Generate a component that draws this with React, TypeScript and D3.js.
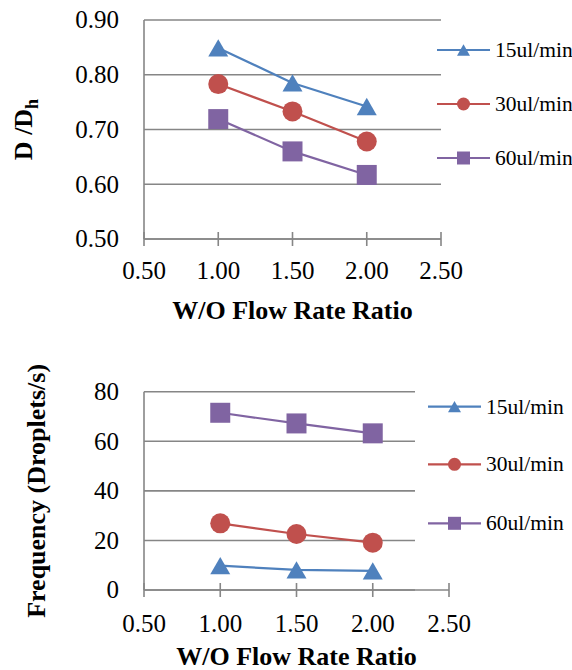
import React from "react";
import * as d3 from "d3";

const flowRatio = [1.0, 1.5, 2.0];
const xTicks = [0.5, 1.0, 1.5, 2.0, 2.5];
const seriesNames = ["15ul/min", "30ul/min", "60ul/min"];
const colors = ["#4F81BD", "#C0504D", "#8064A2"];
const shapes = ["triangle", "circle", "square"];

// D/Dh
const ratio15 = [0.849, 0.785, 0.742];
const ratio30 = [0.783, 0.733, 0.678];
const ratio60 = [0.719, 0.66, 0.617];
const ratioTicks = [0.5, 0.6, 0.7, 0.8, 0.9];

// droplets per second
const freq15 = [9.8, 8.1, 7.7];
const freq30 = [26.9, 22.6, 19.1];
const freq60 = [71.5, 67.2, 63.2];
const freqTicks = [0, 20, 40, 60, 80];

const FONT = "Liberation Serif, DejaVu Serif, serif";
const GRID = "#868686";

function marker(shape, size) {
  // size = width in px
  if (shape === "triangle") {
    const r = size / (2 * Math.sqrt(3));
    const area = r * r * 3 * Math.sqrt(3);
    return { d: d3.symbol(d3.symbolTriangle, area)(), dy: r / 2 };
  }
  if (shape === "square") return { d: d3.symbol(d3.symbolSquare, size * size)(), dy: 0 };
  return { d: d3.symbol(d3.symbolCircle, Math.PI * (size / 2) * (size / 2))(), dy: 0 };
}

function Chart({ yDomain, yRange, xRange, gridEnd, yTicks, yFmt, data, legend, yTitle, titleX, xLabelY, xTitleY }) {
  const x = d3.scaleLinear().domain([0.5, 2.5]).range(xRange);
  const y = d3.scaleLinear().domain(yDomain).range(yRange);
  const line = d3
    .line()
    .x((d) => x(d[0]))
    .y((d) => y(d[1]));
  const fmt = d3.format(".2f");
  return (
    <g fontFamily={FONT}>
      {yTicks.map((t) => (
        <g key={t}>
          <line x1={x(0.5)} x2={gridEnd} y1={y(t)} y2={y(t)} stroke={GRID} strokeWidth={1.6} />
          <text x={119} y={y(t)} dy="0.33em" textAnchor="end" fontSize={25}>
            {yFmt(t)}
          </text>
        </g>
      ))}
      <line x1={x(0.5)} x2={x(0.5)} y1={y(yDomain[1])} y2={y(yDomain[0])} stroke={GRID} strokeWidth={1.6} />
      <line x1={x(0.5)} x2={x(2.5)} y1={y(yDomain[0])} y2={y(yDomain[0])} stroke={GRID} strokeWidth={1.6} />
      {xTicks.map((t) => (
        <g key={t}>
          <line x1={x(t)} x2={x(t)} y1={y(yDomain[0]) - 7} y2={y(yDomain[0]) + 7} stroke={GRID} strokeWidth={1.6} />
          <text x={x(t)} y={xLabelY} textAnchor="middle" fontSize={25}>
            {fmt(t)}
          </text>
        </g>
      ))}
      {data.map((vals, i) => {
        const pts = flowRatio.map((f, j) => [f, vals[j]]);
        const m = marker(shapes[i], 20);
        return (
          <g key={i}>
            <path d={line(pts)} fill="none" stroke={colors[i]} strokeWidth={2.2} />
            {pts.map((p, j) => (
              <path key={j} d={m.d} fill={colors[i]} transform={`translate(${x(p[0])},${y(p[1]) + m.dy})`} />
            ))}
          </g>
        );
      })}
      {seriesNames.map((s, i) => {
        const m = marker(shapes[i], 13);
        const ly = legend.y[i];
        return (
          <g key={s}>
            <line x1={legend.x} x2={legend.x + 53} y1={ly} y2={ly} stroke={colors[i]} strokeWidth={2.2} />
            <path d={m.d} fill={colors[i]} transform={`translate(${legend.x + 26.5},${ly + m.dy})`} />
            <text x={legend.x + 58} y={ly} dy="0.33em" fontSize={21.5}>
              {s}
            </text>
          </g>
        );
      })}
      <text x={(x(0.5) + x(2.5)) / 2} y={xTitleY} textAnchor="middle" fontSize={26} fontWeight="bold">
        W/O Flow Rate Ratio
      </text>
      <text
        transform={`translate(${titleX},${(y(yDomain[0]) + y(yDomain[1])) / 2}) rotate(-90)`}
        textAnchor="middle"
        fontSize={26}
        fontWeight="bold"
      >
        {yTitle}
      </text>
    </g>
  );
}

export default function App() {
  return (
    <svg width={572} height={670} style={{ position: "absolute", left: 0, top: 0, background: "#fff" }}>
      <Chart
        yDomain={[0.5, 0.9]}
        yRange={[239, 20]}
        xRange={[144, 441]}
        gridEnd={441}
        yTicks={ratioTicks}
        yFmt={d3.format(".2f")}
        data={[ratio15, ratio30, ratio60]}
        legend={{ x: 437, y: [50, 104, 158] }}
        yTitle={
          <>
            D /D
            <tspan fontSize={18} dy={6}>h</tspan>
          </>
        }
        titleX={32}
        xLabelY={278.5}
        xTitleY={319}
      />
      <Chart
        yDomain={[0, 80]}
        yRange={[590, 391.7]}
        xRange={[144, 449]}
        gridEnd={415}
        yTicks={freqTicks}
        yFmt={d3.format("d")}
        data={[freq15, freq30, freq60]}
        legend={{ x: 428, y: [406.7, 464.3, 523.3] }}
        yTitle="Frequency (Droplets/s)"
        titleX={45}
        xLabelY={631.5}
        xTitleY={665}
      />
    </svg>
  );
}
